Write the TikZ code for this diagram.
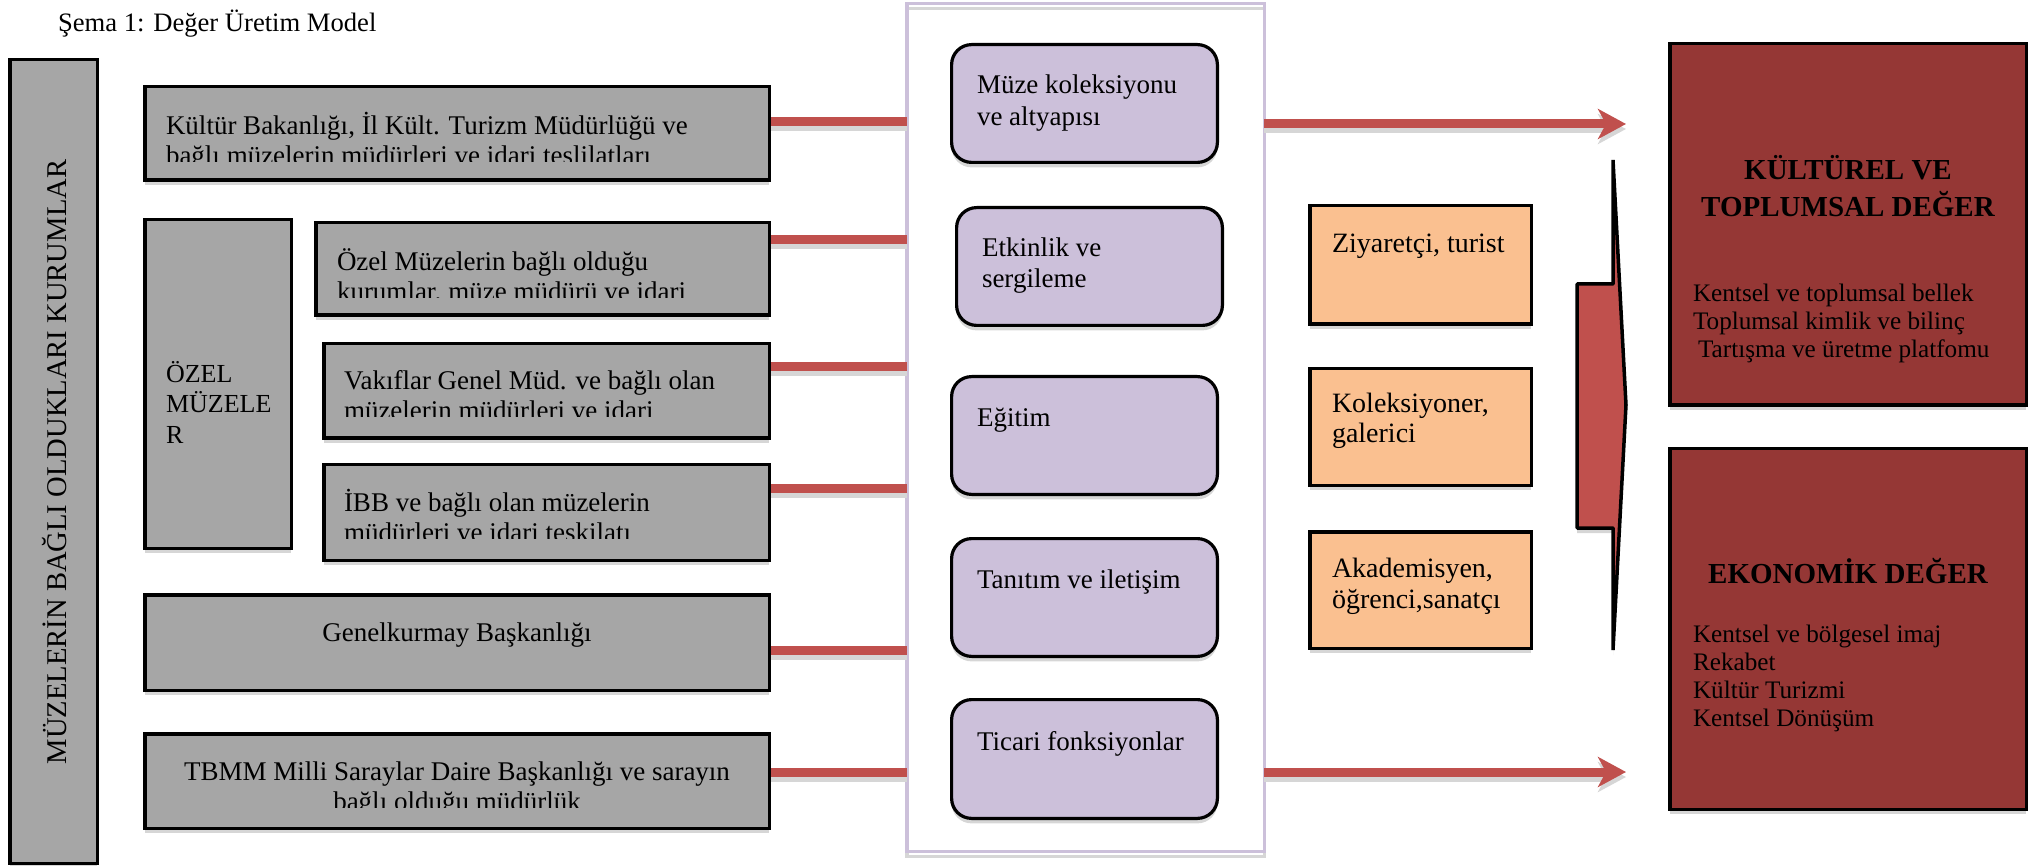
\documentclass[tikz,border=0pt]{standalone}
\usepackage{fontspec}
\setmainfont{Liberation Serif}
\usetikzlibrary{arrows.meta,shadows}
\definecolor{boxgray}{HTML}{A6A6A6}
\definecolor{purp}{HTML}{CCC0DA}
\definecolor{orng}{HTML}{FAC090}
\definecolor{dred}{HTML}{953735}
\definecolor{connred}{HTML}{C0504D}
\definecolor{shadowgray}{HTML}{D6D6D6}
\newcommand{\fGray}{\fontsize{13.5pt}{15pt}\selectfont}
\newcommand{\fPurp}{\fontsize{13.5pt}{16pt}\selectfont}
\newcommand{\fOr}{\fontsize{14pt}{15pt}\selectfont}
\newcommand{\fRedT}{\fontsize{14.5pt}{17pt}\selectfont\bfseries}
\newcommand{\fRedB}{\fontsize{12.6pt}{14pt}\selectfont}
\begin{document}
\begin{tikzpicture}[x=0.5pt,y=-0.5pt,
  box/.style={draw=black, line width=1.75pt, inner sep=0pt, outer sep=0pt,
    drop shadow={shadow xshift=0pt, shadow yshift=-2.5pt, fill=shadowgray, opacity=1}},
  graybox/.style={box, fill=boxgray},
  purpbox/.style={box, fill=purp, rounded corners=10pt, line width=1.6pt},
  orbox/.style={box, fill=orng},
  redbox/.style={box, fill=dred},
  txt/.style={anchor=base west, inner sep=0pt, outer sep=0pt},
  ctxt/.style={anchor=base, inner sep=0pt, outer sep=0pt},
  conn/.style={draw=connred, line width=4.5pt,
    preaction={draw=shadowgray, line width=4.5pt, transform canvas={yshift=-2.5pt}}},
  tip/.style={-{Stealth[length=14pt,width=15pt,inset=4pt]}}
]
\useasboundingbox (0,0) rectangle (2042,866);

% title
\node[txt, font=\fontsize{13.3pt}{15pt}\selectfont] (title) at (58,32) {Şema 1: Değer Üretim Model};

% tall left box
\node[graybox, minimum width=43.75pt, minimum height=401.75pt] (tall) at (53.5,461.5) {};
\node[rotate=90, inner sep=0pt, font=\fontsize{14.3pt}{16pt}\selectfont] (talltxt) at (55,462) {MÜZELERİN BAĞLI OLDUKLARI KURUMLAR};

% gray boxes
\node[graybox, minimum width=312.25pt, minimum height=46.75pt] (b1) at (457,133.5) {};
\node[graybox, minimum width=73.25pt, minimum height=164.25pt] (oz) at (218,384) {};
\node[graybox, minimum width=226.75pt, minimum height=46.25pt] (b2) at (542.5,269) {};
\node[graybox, minimum width=222.75pt, minimum height=47.25pt] (b3) at (546.5,391) {};
\node[graybox, minimum width=222.75pt, minimum height=47.75pt] (b4) at (546.5,512.5) {};
\node[graybox, minimum width=312.25pt, minimum height=47.75pt] (b5) at (457,642.5) {};
\node[graybox, minimum width=312.25pt, minimum height=47.25pt] (b6) at (457,781) {};

\begin{scope}[font=\fGray]
  \begin{scope}
    \clip (140,85) rectangle (775,162);
    \node[txt] (t1a) at (166,135) {Kültür Bakanlığı, İl Kült. Turizm Müdürlüğü ve};
    \node[txt] (t1b) at (166,165) {bağlı müzelerin müdürleri ve idari teslilatları};
  \end{scope}
  \begin{scope}
    \clip (310,221) rectangle (775,298);
    \node[txt] (t2a) at (337,271) {Özel Müzelerin bağlı olduğu};
    \node[txt] (t2b) at (337,301) {kurumlar, müze müdürü ve idari};
  \end{scope}
  \begin{scope}
    \clip (318,342) rectangle (775,417);
    \node[txt] (t3a) at (344,390) {Vakıflar Genel Müd. ve bağlı olan};
    \node[txt] (t3b) at (344,420) {müzelerin müdürleri ve idari};
  \end{scope}
  \begin{scope}
    \clip (318,463) rectangle (775,538);
    \node[txt] (t4a) at (344,511) {İBB ve bağlı olan müzelerin};
    \node[txt] (t4b) at (344,541) {müdürleri ve idari teşkilatı};
  \end{scope}
  \node[ctxt] (t5) at (457,641) {Genelkurmay Başkanlığı};
  \begin{scope}
    \clip (140,732) rectangle (775,807);
    \node[ctxt] (t6a) at (457,780) {TBMM Milli Saraylar Daire Başkanlığı ve sarayın};
    \node[ctxt] (t6b) at (457,810) {bağlı olduğu müdürlük};
  \end{scope}
  \node[txt, font=\fontsize{13pt}{15pt}\selectfont] (oza) at (166,383) {ÖZEL};
  \node[txt, font=\fontsize{13pt}{15pt}\selectfont] (ozb) at (166,413) {MÜZELE};
  \node[txt, font=\fontsize{13pt}{15pt}\selectfont] (ozc) at (166,444) {R};
\end{scope}

% central frame
\node[draw=purp, line width=1.75pt, inner sep=0pt, outer sep=0pt,
  minimum width=178.75pt, minimum height=423.75pt,
  preaction={draw=shadowgray, line width=1.75pt, transform canvas={yshift=-2.5pt}}] (fr) at (1085.5,427.5) {};

% left connectors
\coordinate (c1) at ([yshift=5.75pt]b1.east);
\coordinate (c2) at ([yshift=14.5pt]b2.east);
\coordinate (c3) at ([yshift=12pt]b3.east);
\coordinate (c4) at ([yshift=12.25pt]b4.east);
\coordinate (c5) at ([yshift=-3.75pt]b5.east);
\coordinate (c6) at ([yshift=4.5pt]b6.east);
\foreach \c in {c1,c2,c3,c4,c5,c6}{
  \draw[conn, shorten <=0.9pt] (\c) -- (\c -| fr.west);
}

% purple boxes
\node[purpbox, minimum width=132.9pt, minimum height=58.9pt] (p1) at (1084.5,103.5) {};
\node[purpbox, minimum width=132.9pt, minimum height=58.9pt] (p2) at (1089.5,266.5) {};
\node[purpbox, minimum width=132.9pt, minimum height=58.9pt] (p3) at (1084.5,435.5) {};
\node[purpbox, minimum width=132.9pt, minimum height=58.9pt] (p4) at (1084.5,597.5) {};
\node[purpbox, minimum width=132.9pt, minimum height=59.4pt] (p5) at (1084.5,759) {};
\begin{scope}[font=\fPurp]
  \node[txt] (p1a) at (977,94) {Müze koleksiyonu};
  \node[txt] (p1b) at (977,126) {ve altyapısı};
  \node[txt] (p2a) at (982,257) {Etkinlik ve};
  \node[txt] (p2b) at (982,288) {sergileme};
  \node[txt] (p3a) at (977,427) {Eğitim};
  \node[txt] (p4a) at (977,588) {Tanıtım ve iletişim};
  \node[txt] (p5a) at (977,750) {Ticari fonksiyonlar};
\end{scope}

% right arrows
\coordinate (a1) at (1626,124);
\coordinate (a2) at (1626,772);
\draw[conn, tip] (fr.east |- a1) -- (a1);
\draw[conn, tip] (fr.east |- a2) -- (a2);

% orange boxes
\node[orbox, minimum width=110.75pt, minimum height=59.25pt] (o1) at (1420.5,265) {};
\node[orbox, minimum width=110.75pt, minimum height=58.25pt] (o2) at (1420.5,427) {};
\node[orbox, minimum width=110.75pt, minimum height=58.25pt] (o3) at (1420.5,590) {};
\begin{scope}[font=\fOr]
  \node[txt] (o1a) at (1332,253) {Ziyaretçi, turist};
  \node[txt] (o2a) at (1332,413) {Koleksiyoner,};
  \node[txt] (o2b) at (1332,443) {galerici};
  \node[txt] (o3a) at (1332,577) {Akademisyen,};
  \node[txt] (o3b) at (1332,608) {öğrenci,sanatçı};
\end{scope}

% block arrow
\fill[shadowgray] (1577,289) -- (1613,289) -- (1613,165) -- (1626,410) -- (1613,655) -- (1613,533) -- (1577,533) -- cycle;
\draw[fill=connred, line width=1.75pt, line join=bevel] (1577,284) -- (1613,284) -- (1613,160) -- (1626,405) -- (1613,650) -- (1613,528) -- (1577,528) -- cycle;

% red boxes
\node[redbox, minimum width=178.25pt, minimum height=180.75pt] (r1) at (1848,224.5) {};
\node[redbox, minimum width=178.25pt, minimum height=180.25pt] (r2) at (1848,629) {};
\node[ctxt, font=\fRedT] (r1t1) at (1848,180) {KÜLTÜREL VE};
\node[ctxt, font=\fRedT] (r1t2) at (1848,217) {TOPLUMSAL DEĞER};
\node[ctxt, font=\fRedT] (r2t1) at (1848,583) {EKONOMİK DEĞER};
\begin{scope}[font=\fRedB]
  \node[txt] (r1a) at (1693,302) {Kentsel ve toplumsal bellek};
  \node[txt] (r1b) at (1693,330) {Toplumsal kimlik ve bilinç};
  \node[txt] (r1c) at (1698,358) {Tartışma ve üretme platfomu};
  \node[txt] (r2a) at (1693,642) {Kentsel ve bölgesel imaj};
  \node[txt] (r2b) at (1693,670) {Rekabet};
  \node[txt] (r2c) at (1693,698) {Kültür Turizmi};
  \node[txt] (r2d) at (1693,726) {Kentsel Dönüşüm};
\end{scope}
\end{tikzpicture}
\end{document}
